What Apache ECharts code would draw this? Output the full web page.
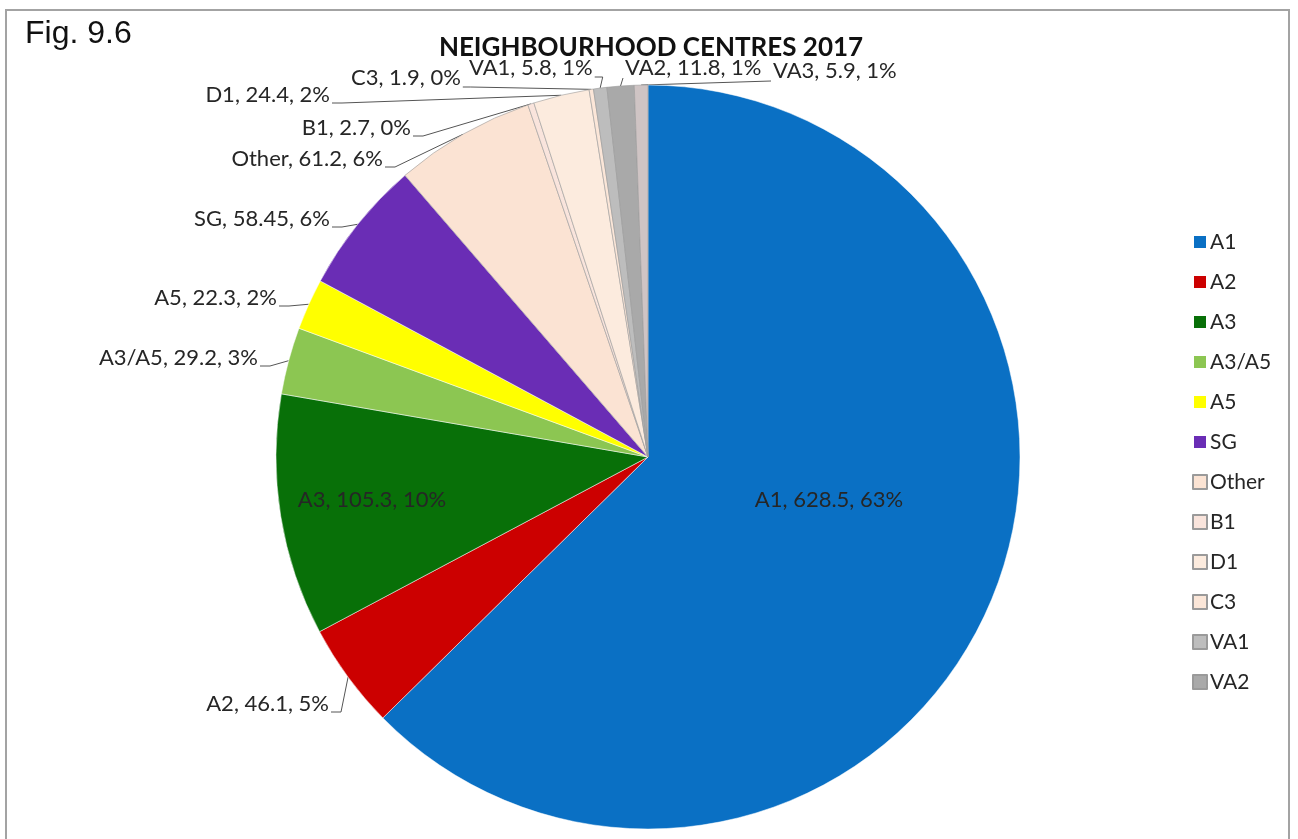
<!DOCTYPE html>
<html>
<head>
<meta charset="utf-8">
<script src="https://cdn.jsdelivr.net/npm/echarts@6/dist/echarts.min.js"></script>
<style>
html,body{margin:0;padding:0;background:#fff;}
#chart{width:1298px;height:839px;}
</style>
</head>
<body>
<div id="chart"></div>
<script>
// ---- data ----
const categories = ['A1','A2','A3','A3/A5','A5','SG','Other','B1','D1','C3','VA1','VA2','VA3'];
const values = [628.5, 46.1, 105.3, 29.2, 22.3, 58.45, 61.2, 2.7, 24.4, 1.9, 5.8, 11.8, 5.9];
const legendNames = ['A1','A2','A3','A3/A5','A5','SG','Other','B1','D1','C3','VA1','VA2'];
const colors = ['#0a70c4','#cc0000','#087008','#8cc652','#ffff00','#6a2db5',
                '#fbe3d3','#f9e4dc','#fcebde','#fbe6d8','#bdbdbd','#a9a9a9','#cfc4c4'];

// ---- label placement (layout only) ----
// [x, y, align, lineMode]
const labelPlace = {
  0: [829, 500, 'center', 'none'],
  1: [329, 704, 'right', 'left'],
  2: [372, 500, 'center', 'none'],
  3: [258, 358, 'right', 'left'],
  4: [277, 298, 'right', 'left'],
  5: [330, 219, 'right', 'left'],
  6: [383, 159, 'right', 'left'],
  7: [411, 128, 'right', 'left'],
  8: [330, 95, 'right', 'left'],
  9: [351, 78, 'left', 'right'],
  10: [469, 68, 'left', 'right'],
  11: [625, 68, 'left', 'leftTop'],
  12: [773, 71, 'left', 'leftTop']
};

const total = values.reduce((a, b) => a + b, 0);
const pale = new Set(['Other','B1','D1','C3','VA1','VA2','VA3']);

const seriesData = categories.map((name, i) => {
  const item = {
    name: name,
    value: values[i],
    itemStyle: {
      color: colors[i],
      borderColor: pale.has(name) ? '#9a9a9a' : '#ffffff',
      borderWidth: pale.has(name) ? 0.6 : 0.5
    }
  };
  if (name === 'A1' || name === 'A3') {
    item.label = { position: 'inner' };
    item.labelLine = { show: false };
  }
  return item;
});

const chart = echarts.init(document.getElementById('chart'), null, {renderer: 'canvas'});
const FONT = 'Lato, "Open Sans", sans-serif';

chart.setOption({
  animation: false,
  color: colors,
  title: {
    text: 'NEIGHBOURHOOD CENTRES 2017',
    left: 646,
    textAlign: 'center',
    top: 30,
    textStyle: { fontFamily: FONT, fontWeight: 'bold', fontSize: 26, color: '#111' }
  },
  graphic: [
    { type: 'rect', shape: { x: 6, y: 10, width: 1283, height: 845 },
      style: { fill: 'none', stroke: '#a3a3a3', lineWidth: 2 }, silent: true },
    { type: 'text', left: 25, top: 18,
      style: { text: 'Fig. 9.6', font: '32px "Liberation Sans", Arial, sans-serif', fill: '#111' } }
  ],
  legend: {
    orient: 'vertical',
    left: 1187,
    top: 226,
    data: legendNames,
    icon: 'rect',
    itemWidth: 14,
    itemHeight: 14,
    itemGap: 18,
    textStyle: { fontFamily: FONT, fontSize: 21, color: '#262626', lineHeight: 22, padding: [0,0,0,-2] }
  },
  series: [{
    type: 'pie',
    center: [648, 457],
    radius: 372,
    startAngle: 90,
    clockwise: true,
    avoidLabelOverlap: false,
    data: seriesData,
    label: {
      show: true,
      position: 'outside',
      fontFamily: FONT,
      fontSize: 22,
      color: '#262626',
      formatter: p => p.name + ', ' + p.value + ', ' + Math.round(p.value / total * 100) + '%'
    },
    labelLine: {
      show: true,
      length: 10,
      length2: 10,
      lineStyle: { color: '#555', width: 1 }
    },
    labelLayout: function (params) {
      const pl = labelPlace[params.dataIndex];
      if (!pl) return {};
      const [x, y, align, mode] = pl;
      const out = { x: x, y: y, align: align, verticalAlign: 'middle' };
      const pts = params.labelLinePoints;
      if (pts && mode !== 'none') {
        const a = pts[0];
        const w = params.labelRect.width;
        let p1, p2;
        if (mode === 'left') {
          p2 = [x + 2, y + 8];
          p1 = [x + 12, y + 8];
        } else if (mode === 'right') {
          p2 = [x + w + 2, y + 9];
          p1 = [x + w + 10, y + 9];
        } else {
          p2 = [x - 2, y + 10];
          p1 = [x - 2, y + 10];
        }
        out.labelLinePoints = [[a[0], a[1]], p1, p2];
      }
      return out;
    }
  }]
});
</script>
</body>
</html>
